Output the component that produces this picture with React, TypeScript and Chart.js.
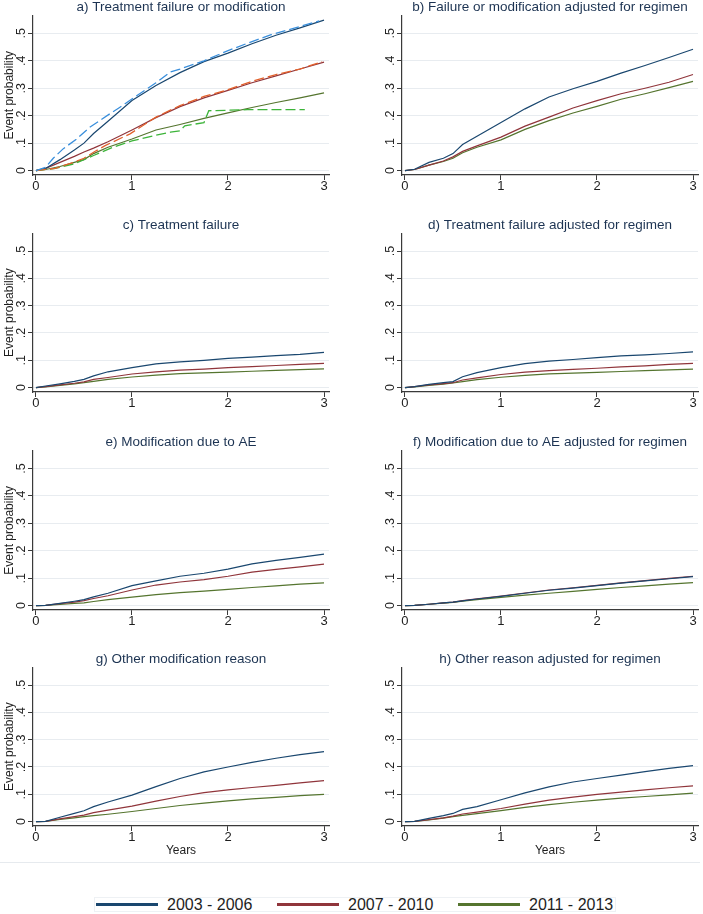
import React, { useEffect, useRef } from "react";
import { Chart, registerables } from "chart.js";

Chart.register(...registerables);

// ---------- data ----------
const PERIODS = ["2003 - 2006", "2007 - 2010", "2011 - 2013"];
const YEARS = [0, 0.1, 0.25, 0.4, 0.5, 0.6, 0.75, 1, 1.25, 1.5, 1.75, 2, 2.25, 2.5, 2.75, 3];
const X_TICKS = [0, 1, 2, 3];
const X_TICK_LABELS = ["0", "1", "2", "3"];
const Y_TICKS = [0, 0.1, 0.2, 0.3, 0.4, 0.5];
const Y_TICK_LABELS = ["0", ".1", ".2", ".3", ".4", ".5"];

// a) Treatment failure or modification (predicted)
const A_2003 = [0, 0.008, 0.04, 0.075, 0.1, 0.135, 0.18, 0.255, 0.31, 0.357, 0.397, 0.428, 0.462, 0.493, 0.52, 0.548];
const A_2007 = [0, 0.008, 0.03, 0.052, 0.068, 0.082, 0.105, 0.148, 0.193, 0.233, 0.265, 0.292, 0.32, 0.345, 0.37, 0.395];
const A_2011 = [0, 0.004, 0.015, 0.03, 0.04, 0.062, 0.085, 0.115, 0.148, 0.168, 0.19, 0.21, 0.23, 0.248, 0.265, 0.283];
// a) observed (dashed)
const A_OBS_2003_YEARS = [0, 0.1, 0.18, 0.285, 0.42, 0.56, 0.77, 0.875, 1.08, 1.25, 1.4, 1.5, 1.75, 2, 2.25, 2.45, 2.7, 2.95];
const A_OBS_2003 = [0, 0.012, 0.045, 0.08, 0.114, 0.158, 0.207, 0.231, 0.28, 0.32, 0.359, 0.37, 0.4, 0.437, 0.47, 0.495, 0.52, 0.545];
const A_OBS_2007_YEARS = [0, 0.2, 0.39, 0.5, 0.63, 0.72, 0.98, 1.25, 1.5, 1.75, 2, 2.25, 2.5, 2.75, 2.98];
const A_OBS_2007 = [0, 0.008, 0.03, 0.045, 0.073, 0.091, 0.134, 0.195, 0.237, 0.27, 0.295, 0.325, 0.35, 0.37, 0.397];
const A_OBS_2011_YEARS = [0, 0.2, 0.4, 0.6, 0.8, 1, 1.2, 1.4, 1.5, 1.55, 1.75, 1.8, 2.2, 2.8];
const A_OBS_2011 = [0, 0.008, 0.025, 0.055, 0.085, 0.108, 0.125, 0.14, 0.145, 0.163, 0.175, 0.218, 0.222, 0.222];

// b) Failure or modification adjusted for regimen
const B_2003 = [0, 0.005, 0.03, 0.045, 0.062, 0.095, 0.125, 0.175, 0.225, 0.268, 0.298, 0.325, 0.355, 0.383, 0.412, 0.442];
const B_2007 = [0, 0.004, 0.02, 0.035, 0.05, 0.07, 0.09, 0.122, 0.162, 0.195, 0.228, 0.255, 0.28, 0.3, 0.322, 0.35];
const B_2011 = [0, 0.004, 0.02, 0.033, 0.045, 0.065, 0.085, 0.112, 0.15, 0.182, 0.21, 0.234, 0.26, 0.28, 0.302, 0.325];

// c) Treatment failure
const C_2003 = [0, 0.006, 0.014, 0.023, 0.03, 0.043, 0.058, 0.073, 0.087, 0.094, 0.1, 0.107, 0.112, 0.117, 0.122, 0.129];
const C_2007 = [0, 0.004, 0.01, 0.016, 0.021, 0.03, 0.037, 0.05, 0.058, 0.064, 0.068, 0.073, 0.077, 0.081, 0.085, 0.089];
const C_2011 = [0, 0.003, 0.008, 0.014, 0.018, 0.023, 0.03, 0.039, 0.046, 0.051, 0.054, 0.057, 0.06, 0.063, 0.066, 0.069];

// d) Treatment failure adjusted for regimen
const D_2003 = [0, 0.004, 0.012, 0.018, 0.022, 0.04, 0.055, 0.073, 0.088, 0.097, 0.103, 0.11, 0.116, 0.12, 0.125, 0.131];
const D_2007 = [0, 0.004, 0.01, 0.015, 0.018, 0.028, 0.036, 0.048, 0.057, 0.062, 0.067, 0.071, 0.076, 0.08, 0.085, 0.089];
const D_2011 = [0, 0.003, 0.008, 0.013, 0.017, 0.022, 0.029, 0.038, 0.045, 0.05, 0.053, 0.056, 0.059, 0.062, 0.065, 0.068];

// e) Modification due to AE
const E_2003 = [0, 0.001, 0.008, 0.016, 0.022, 0.032, 0.045, 0.073, 0.09, 0.107, 0.118, 0.133, 0.152, 0.165, 0.176, 0.188];
const E_2007 = [0, 0.001, 0.007, 0.013, 0.018, 0.026, 0.036, 0.057, 0.075, 0.086, 0.095, 0.107, 0.122, 0.132, 0.141, 0.151];
const E_2011 = [0, 0.001, 0.004, 0.008, 0.01, 0.015, 0.022, 0.031, 0.04, 0.047, 0.053, 0.059, 0.066, 0.072, 0.078, 0.083];

// f) Modification due to AE adjusted for regimen
const F_2003 = [0, 0.001, 0.005, 0.01, 0.013, 0.017, 0.024, 0.034, 0.045, 0.056, 0.064, 0.073, 0.082, 0.09, 0.098, 0.106];
const F_2007 = [0, 0.001, 0.005, 0.01, 0.013, 0.018, 0.025, 0.035, 0.046, 0.057, 0.065, 0.074, 0.083, 0.091, 0.099, 0.107];
const F_2011 = [0, 0.001, 0.005, 0.009, 0.012, 0.016, 0.022, 0.03, 0.038, 0.045, 0.052, 0.059, 0.066, 0.072, 0.078, 0.084];

// g) Other modification reason
const G_2003 = [0, 0.001, 0.016, 0.03, 0.04, 0.055, 0.072, 0.097, 0.128, 0.158, 0.182, 0.2, 0.217, 0.232, 0.245, 0.256];
const G_2007 = [0, 0.001, 0.01, 0.018, 0.024, 0.033, 0.042, 0.057, 0.075, 0.092, 0.106, 0.116, 0.125, 0.133, 0.142, 0.15];
const G_2011 = [0, 0.001, 0.008, 0.014, 0.018, 0.022, 0.027, 0.037, 0.048, 0.059, 0.068, 0.076, 0.083, 0.089, 0.095, 0.1];

// h) Other reason adjusted for regimen
const H_2003 = [0, 0.001, 0.012, 0.022, 0.03, 0.045, 0.055, 0.08, 0.105, 0.127, 0.145, 0.158, 0.17, 0.183, 0.195, 0.205];
const H_2007 = [0, 0.001, 0.007, 0.014, 0.02, 0.028, 0.035, 0.048, 0.064, 0.079, 0.09, 0.1, 0.108, 0.116, 0.124, 0.131];
const H_2011 = [0, 0.001, 0.006, 0.013, 0.018, 0.023, 0.029, 0.04, 0.052, 0.062, 0.071, 0.079, 0.086, 0.092, 0.098, 0.104];

// ---------- styles ----------
const FONT = '"Liberation Sans", Arial, Helvetica, sans-serif';
const LINE_COLORS = ["#1a476f", "#90353b", "#55752f"];
const OBS_COLORS = ["#3a8fdc", "#e2612c", "#3db43a"];
const AXIS_COLOR = "#3a3a3a";
const GRID_COLOR = "#e8ecf0";
const TEXT_COLOR = "#1e1e1e";
const TITLE_COLOR = "#1c3352";

type PanelDef = {
  title: string;
  col: number;
  row: number;
  series: number[][];
  observed?: { years: number[]; values: number[] }[];
};

const PANELS: PanelDef[] = [
  {
    title: "a) Treatment failure or modification", col: 0, row: 0,
    series: [A_2003, A_2007, A_2011],
    observed: [
      { years: A_OBS_2003_YEARS, values: A_OBS_2003 },
      { years: A_OBS_2007_YEARS, values: A_OBS_2007 },
      { years: A_OBS_2011_YEARS, values: A_OBS_2011 },
    ],
  },
  { title: "b) Failure or modification adjusted for regimen", col: 1, row: 0, series: [B_2003, B_2007, B_2011] },
  { title: "c) Treatment failure", col: 0, row: 1, series: [C_2003, C_2007, C_2011] },
  { title: "d) Treatment failure adjusted for regimen", col: 1, row: 1, series: [D_2003, D_2007, D_2011] },
  { title: "e) Modification due to AE", col: 0, row: 2, series: [E_2003, E_2007, E_2011] },
  { title: "f) Modification due to AE adjusted for regimen", col: 1, row: 2, series: [F_2003, F_2007, F_2011] },
  { title: "g) Other modification reason", col: 0, row: 3, series: [G_2003, G_2007, G_2011] },
  { title: "h) Other reason adjusted for regimen", col: 1, row: 3, series: [H_2003, H_2007, H_2011] },
];

// ---------- layout ----------
const COL_LEFT = [0, 352];
const COL_WIDTH = [352, 351];
const COL_PAD_LEFT = [0, 17];
const COL_PAD_RIGHT = [23, 5];
const ROW_TOP = [0, 217, 435, 651];
const ROW_PAD_TOP = [15.5, 16.3, 15.6, 16.3];
const PLOT_H = 159;
const Y_AXIS_W = 33;
const X_AXIS_H = [24, 24, 24, 36];

const panelTitlePlugin = {
  id: "panelTitle",
  afterDraw(chart: any, _args: any, opts: any) {
    const { ctx, chartArea } = chart;
    ctx.save();
    ctx.font = `13.5px ${FONT}`;
    ctx.fillStyle = TITLE_COLOR;
    ctx.textAlign = "center";
    ctx.textBaseline = "middle";
    ctx.fillText(opts.text, (chartArea.left + chartArea.right) / 2, chartArea.top - 8);
    ctx.restore();
  },
};

function buildConfig(p: PanelDef) {
  const isLeft = p.col === 0;
  const isBottom = p.row === 3;
  const datasets: any[] = [];
  (p.observed || []).forEach((o, i) => {
    datasets.push({
      label: PERIODS[i] + " observed",
      data: o.years.map((x, j) => ({ x, y: o.values[j] })),
      borderColor: OBS_COLORS[i],
      borderWidth: 1.3,
      borderDash: [10, 4],
      pointRadius: 0,
      fill: false,
      tension: 0,
    });
  });
  p.series.forEach((vals, i) => {
    datasets.push({
      label: PERIODS[i],
      data: YEARS.map((x, j) => ({ x, y: vals[j] })),
      borderColor: LINE_COLORS[i],
      borderWidth: 1.2,
      pointRadius: 0,
      fill: false,
      tension: 0,
    });
  });
  return {
    type: "line" as const,
    data: { datasets },
    plugins: [panelTitlePlugin],
    options: {
      animation: false as const,
      responsive: false,
      devicePixelRatio: 1,
      layout: {
        padding: {
          left: COL_PAD_LEFT[p.col],
          right: COL_PAD_RIGHT[p.col],
          top: ROW_PAD_TOP[p.row],
          bottom: 0,
        },
      },
      plugins: {
        legend: { display: false },
        tooltip: { enabled: false },
        title: { display: false },
        panelTitle: { text: p.title },
      } as any,
      scales: {
        x: {
          type: "linear" as const,
          bounds: "data" as const,
          min: -0.031,
          max: 3.052,
          afterBuildTicks: (s: any) => {
            s.ticks = X_TICKS.map((v) => ({ value: v }));
          },
          afterFit: (s: any) => {
            s.height = X_AXIS_H[p.row];
          },
          grid: {
            display: true,
            drawOnChartArea: false,
            drawTicks: true,
            tickLength: 5,
            tickColor: AXIS_COLOR,
            tickWidth: 1,
          },
          border: { display: true, color: AXIS_COLOR, width: 1.2 },
          ticks: {
            padding: 0,
            color: TEXT_COLOR,
            autoSkip: false,
            maxRotation: 0,
            minRotation: 0,
            font: { family: FONT, size: 13, lineHeight: 1 },
            callback: (_v: any, i: number) => X_TICK_LABELS[i],
          },
          title: {
            display: isBottom,
            text: "Years",
            color: TEXT_COLOR,
            font: { family: FONT, size: 12, lineHeight: 1.2 },
            padding: { top: 0, bottom: 4.5 },
          },
        },
        y: {
          type: "linear" as const,
          bounds: "data" as const,
          min: -0.016,
          max: 0.565,
          afterBuildTicks: (s: any) => {
            s.ticks = Y_TICKS.map((v) => ({ value: v }));
          },
          afterFit: (s: any) => {
            s.width = Y_AXIS_W;
          },
          grid: {
            display: true,
            drawOnChartArea: true,
            color: GRID_COLOR,
            lineWidth: 1,
            drawTicks: true,
            tickLength: 5,
            tickColor: AXIS_COLOR,
            tickWidth: 1,
          },
          border: { display: true, color: AXIS_COLOR, width: 1.2 },
          ticks: {
            padding: 1.5,
            crossAlign: "center" as const,
            minRotation: 90,
            maxRotation: 90,
            autoSkip: false,
            color: TEXT_COLOR,
            font: { family: FONT, size: 12.5, lineHeight: 1.2 },
            callback: (_v: any, i: number) => Y_TICK_LABELS[i],
          },
          title: {
            display: isLeft,
            text: "Event probability",
            color: TEXT_COLOR,
            font: { family: FONT, size: 12, lineHeight: 1.2 },
            padding: { top: 2.5, bottom: 0 },
          },
        },
      },
    },
  };
}

function Panel({ p }: { p: PanelDef }) {
  const ref = useRef<HTMLCanvasElement | null>(null);
  const w = COL_WIDTH[p.col];
  const h = Math.round(ROW_PAD_TOP[p.row] + PLOT_H + X_AXIS_H[p.row]);
  useEffect(() => {
    if (!ref.current) return;
    const chart = new Chart(ref.current, buildConfig(p) as any);
    return () => chart.destroy();
  }, [p]);
  return (
    <canvas
      ref={ref}
      width={w}
      height={h}
      style={{
        position: "absolute",
        left: COL_LEFT[p.col],
        top: ROW_TOP[p.row],
        width: w,
        height: h,
      }}
    />
  );
}

const LEGEND_LINE_LEFT = [96, 277, 458];

export default function App() {
  return (
    <div
      style={{
        position: "absolute",
        left: 0,
        top: 0,
        width: 703,
        height: 914,
        background: "#ffffff",
        overflow: "hidden",
      }}
    >
      {PANELS.map((p) => (
        <Panel key={p.title} p={p} />
      ))}
      <div style={{ position: "absolute", left: 0, top: 862, width: 700, height: 1, background: "#e6eaee" }} />
      <div
        style={{
          position: "absolute",
          left: 94,
          top: 897,
          width: 522,
          height: 15,
          border: "1px solid #eef1f4",
          boxSizing: "border-box",
        }}
      />
      {PERIODS.map((label, i) => (
        <React.Fragment key={label}>
          <div
            style={{
              position: "absolute",
              left: LEGEND_LINE_LEFT[i],
              top: 903,
              width: 62,
              height: 2.5,
              background: LINE_COLORS[i],
            }}
          />
          <span
            style={{
              position: "absolute",
              left: LEGEND_LINE_LEFT[i] + 71,
              top: 896.5,
              fontFamily: FONT,
              fontSize: 16,
              lineHeight: "16px",
              color: TEXT_COLOR,
              whiteSpace: "nowrap",
            }}
          >
            {label}
          </span>
        </React.Fragment>
      ))}
    </div>
  );
}
